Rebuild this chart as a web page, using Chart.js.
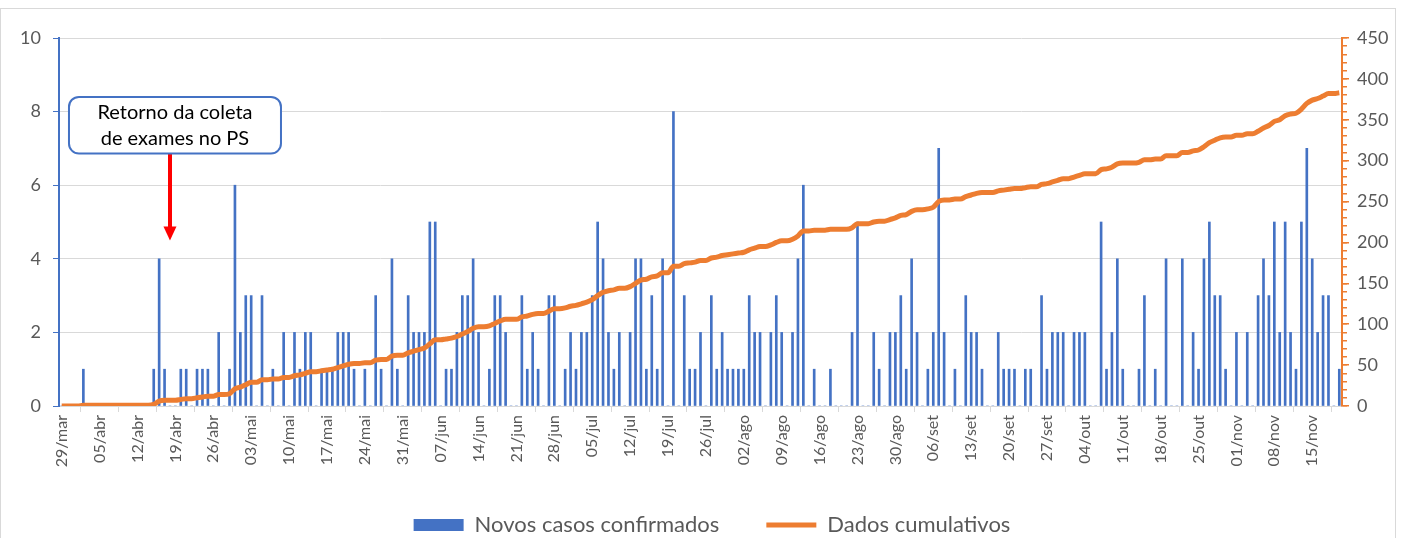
<!DOCTYPE html>
<html lang="pt-BR">
<head>
    <meta charset="UTF-8">
    <title>Novos casos confirmados e dados cumulativos</title>
    <script src="https://cdn.jsdelivr.net/npm/chart.js"></script>
    <style>
        body { margin: 0; background: #fff; }
        #frame { position: absolute; left: 0; top: 8px; width: 1396px; height: 540px; border: 1px solid #d9d9d9; box-sizing: border-box; }
        #wrap { position: absolute; left: 0; top: 0; width: 1406px; height: 538px; }
    </style>
</head>
<body>

<div id="frame"></div>
<div id="wrap">
    <canvas id="casosChart" width="1406" height="538"></canvas>
</div>

<script>
    // dias a partir de 29/mar
    const startDate = [2020, 2, 29];
    const totalDays = 237;
    const monthNames = ['jan', 'fev', 'mar', 'abr', 'mai', 'jun', 'jul', 'ago', 'set', 'out', 'nov', 'dez'];

    // novos casos confirmados por dia
    const novosCasos = [
        0,0,0,0,1,0,0,0,0,0,
        0,0,0,0,0,0,0,1,4,1,
        0,0,1,1,0,1,1,1,0,2,
        0,1,6,2,3,3,0,3,0,1,
        0,2,0,2,1,2,2,0,1,1,
        1,2,2,2,1,0,1,0,3,1,
        0,4,1,0,3,2,2,2,5,5,
        0,1,1,2,3,3,4,2,0,1,
        3,3,2,0,0,3,1,2,1,0,
        3,3,0,1,2,1,2,2,3,5,
        4,2,1,2,0,2,4,4,1,3,
        1,4,0,8,0,3,1,1,2,0,
        3,1,2,1,1,1,1,3,2,2,
        0,2,3,2,0,2,4,6,0,1,
        0,0,1,0,0,0,2,5,0,0,
        2,1,0,2,2,3,1,4,2,0,
        1,2,7,2,0,1,0,3,2,2,
        1,0,0,2,1,1,1,0,1,1,
        0,3,1,2,2,2,0,2,2,2,
        0,0,5,1,2,4,1,0,0,1,
        3,0,1,0,4,0,0,4,0,2,
        1,4,5,3,3,1,0,2,0,2,
        0,3,4,3,5,2,5,2,1,5,
        7,4,2,3,3,0,1
    ];

    // dados cumulativos
    const cumulativos = [
        0,0,0,0,1,1,1,1,1,1,
        1,1,1,1,1,1,1,2,6,7,
        7,7,8,9,9,10,11,12,12,14,
        14,15,21,23,26,29,29,32,32,33,
        33,35,35,37,38,40,42,42,43,44,
        45,47,49,51,52,52,53,53,56,57,
        57,61,62,62,65,67,69,71,76,81,
        81,82,83,85,88,91,95,97,97,98,
        101,104,106,106,106,109,110,112,113,113,
        116,119,119,120,122,123,125,127,130,135,
        139,141,142,144,144,146,150,154,155,158,
        159,163,163,171,171,174,175,176,178,178,
        181,182,184,185,186,187,188,191,193,195,
        195,197,200,202,202,204,208,214,214,215,
        215,215,216,216,216,216,218,223,223,223,
        225,226,226,228,230,233,234,238,240,240,
        241,243,250,252,252,253,253,256,258,260,
        261,261,261,263,264,265,266,266,267,268,
        268,271,272,274,276,278,278,280,282,284,
        284,284,289,290,292,296,297,297,297,298,
        301,301,302,302,306,306,306,310,310,312,
        313,317,322,325,328,329,329,331,331,333,
        333,336,340,343,348,350,355,357,358,363,
        370,374,376,379,382,382,383
    ];

    const labelEvery = 7;

    // anotação
    const notaLinhas = ['Retorno da coleta', 'de exames no PS'];
    const notaIndex = 20;
    const notaTopo = 8.4, notaBase = 6.86, notaSeta = 4.5;

    const dias = [];
    for (let i = 0; i < totalDays; i++) {
        const d = new Date(startDate[0], startDate[1], startDate[2] + i);
        dias.push(String(d.getDate()).padStart(2, '0') + '/' + monthNames[d.getMonth()]);
    }

    const FONT = 'Lato';
    const GRAY = '#595959';

    const notaPlugin = {
        id: 'nota',
        afterDatasetsDraw(chart) {
            const {ctx, scales: {x, y}} = chart;
            const ax = x.getPixelForValue(notaIndex);
            const top = y.getPixelForValue(notaTopo);
            const bottom = y.getPixelForValue(notaBase);
            const tip = y.getPixelForValue(notaSeta);
            const left = ax - 101, right = ax + 111;
            ctx.save();
            // seta
            ctx.strokeStyle = '#ff0000';
            ctx.fillStyle = '#ff0000';
            ctx.lineWidth = 4;
            ctx.beginPath();
            ctx.moveTo(ax, bottom);
            ctx.lineTo(ax, tip - 12);
            ctx.stroke();
            ctx.beginPath();
            ctx.moveTo(ax - 6.5, tip - 14);
            ctx.lineTo(ax + 6.5, tip - 14);
            ctx.lineTo(ax, tip);
            ctx.closePath();
            ctx.fill();
            // caixa
            ctx.fillStyle = '#ffffff';
            ctx.strokeStyle = '#4472C4';
            ctx.lineWidth = 2;
            ctx.beginPath();
            ctx.roundRect(left, top, right - left, bottom - top, 10);
            ctx.fill();
            ctx.stroke();
            ctx.fillStyle = '#000000';
            ctx.font = '20px ' + FONT;
            ctx.textAlign = 'center';
            ctx.textBaseline = 'middle';
            const cx = (left + right) / 2, cy = (top + bottom) / 2;
            ctx.fillText(notaLinhas[0], cx, cy - 13);
            ctx.fillText(notaLinhas[1], cx, cy + 13);
            ctx.restore();
        }
    };

    const ctx = document.getElementById('casosChart').getContext('2d');
    const casosChart = new Chart(ctx, {
        type: 'bar',
        data: {
            labels: dias,
            datasets: [{
                label: 'Novos casos confirmados',
                data: novosCasos,
                backgroundColor: '#4472C4',
                barThickness: 2,
                pointStyle: 'rect',
                yAxisID: 'y',
                order: 1
            }, {
                type: 'line',
                label: 'Dados cumulativos',
                data: cumulativos,
                borderColor: '#ED7D31',
                backgroundColor: '#ED7D31',
                borderWidth: 5,
                pointRadius: 0,
                pointStyle: 'line',
                cubicInterpolationMode: 'monotone',
                yAxisID: 'y2',
                order: 0
            }]
        },
        options: {
            responsive: false,
            animation: false,
            layout: { padding: { top: 38, bottom: -8, left: 18, right: 0 } },
            plugins: {
                tooltip: { enabled: false },
                legend: {
                    position: 'bottom',
                    labels: {
                        usePointStyle: true,
                        pointStyleWidth: 50,
                        boxHeight: 12,
                        padding: 47,
                        color: GRAY,
                        font: { family: FONT, size: 22 },
                        sort: (a, b) => a.datasetIndex - b.datasetIndex
                    }
                }
            },
            scales: {
                x: {
                    grid: { drawOnChartArea: false, color: '#d9d9d9', tickLength: 6, offset: true },
                    border: { color: '#d9d9d9' },
                    ticks: {
                        autoSkip: false,
                        minRotation: 90,
                        maxRotation: 90,
                        padding: 3,
                        color: GRAY,
                        font: { family: FONT, size: 16 },
                        callback: (v, i) => i % labelEvery === 0 ? dias[i] : null
                    },
                    afterFit: s => { s.height = 61; }
                },
                y: {
                    position: 'left',
                    min: 0, max: 10,
                    ticks: { stepSize: 2, padding: 12, color: GRAY, font: { family: FONT, size: 18 } },
                    grid: { color: '#d9d9d9', tickColor: '#4472C4', tickLength: 6 },
                    border: { color: '#4472C4', width: 2 },
                    afterFit: s => { s.width = 41; }
                },
                y2minor: {
                    position: 'right',
                    min: 0, max: 450,
                    ticks: { stepSize: 10, display: false },
                    grid: { drawOnChartArea: false, color: '#ED7D31', tickLength: 5, lineWidth: 1.5 },
                    border: { display: false },
                    afterFit: s => { s.width = 0; }
                },
                y2: {
                    position: 'right',
                    min: 0, max: 450,
                    ticks: { stepSize: 50, padding: 8, color: GRAY, font: { family: FONT, size: 18 } },
                    grid: { drawOnChartArea: false, color: '#ED7D31', tickLength: 7, lineWidth: 1.5 },
                    border: { color: '#ED7D31', width: 2 },
                    afterFit: s => { s.width = 64; }
                }
            }
        },
        plugins: [notaPlugin]
    });
</script>

</body>
</html>
